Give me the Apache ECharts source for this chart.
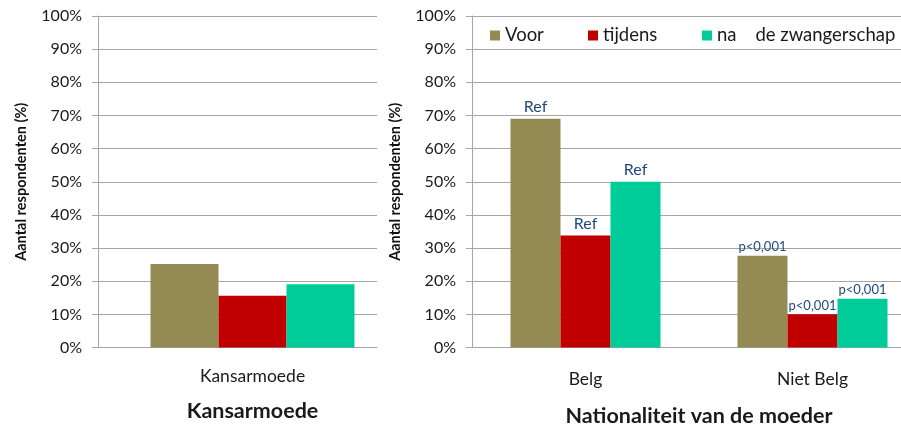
<!DOCTYPE html>
<html><head><meta charset="utf-8">
<script src="https://cdn.jsdelivr.net/npm/echarts@6/dist/echarts.min.js"></script>
<style>html,body{margin:0;padding:0;background:#fff}#c{width:901px;height:427px}</style>
</head><body><div id="c"></div>
<script>
const seriesNames = ['Voor', 'tijdens', 'na'];
const leftCategories = ['Kansarmoede'];
const leftVoor = [25.2];
const leftTijdens = [15.6];
const leftNa = [19.1];
const rightCategories = ['Belg', 'Niet Belg'];
const rightVoor = [69.0, 27.7];
const rightTijdens = [33.8, 10.0];
const rightNa = [50.0, 14.7];
const voorLabels = ['Ref', 'p<0,001'];
const tijdensLabels = ['Ref', 'p<0,001'];
const naLabels = ['Ref', 'p<0,001'];
const yTicks = [0, 10, 20, 30, 40, 50, 60, 70, 80, 90, 100];
const yAxisName = 'Aantal respondenten (%)';
const leftXName = 'Kansarmoede';
const rightXName = 'Nationaliteit van de moeder';
const naLegendText = 'na    de zwangerschap';

const colors = ['#948A54', '#C00000', '#00CC99'];
const FONT = 'Lato';
const gridColor = '#A6A6A6';
const txt = '#1a1a1a';

function yAxis(gridIndex, show) {
  return {
    type: 'value', gridIndex, min: yTicks[0], max: yTicks[yTicks.length - 1], interval: yTicks[1] - yTicks[0],
    show: show,
    name: yAxisName, nameLocation: 'middle', nameGap: 69, nameRotate: 90,
    nameTextStyle: { fontFamily: FONT, fontSize: 14.5, fontWeight: 'bold', color: '#111' },
    axisLine: { show: true, lineStyle: { color: gridColor, width: 1 } },
    axisTick: { show: true, length: 6, lineStyle: { color: gridColor } },
    axisLabel: { formatter: '{value}%', fontFamily: FONT, fontSize: 16, color: txt, margin: 16 },
    splitLine: { show: true, lineStyle: { color: gridColor, width: 1 } }
  };
}

function labelData(values, labels) {
  return values.map((v, i) => ({
    value: v,
    label: {
      show: true, position: 'top', distance: labels[i] === 'Ref' ? 4 : 2,
      formatter: labels[i], fontFamily: FONT, color: '#1F497D',
      fontSize: labels[i] === 'Ref' ? 16 : 13
    }
  }));
}

const leftVals = [leftVoor, leftTijdens, leftNa];
const rightVals = [rightVoor, rightTijdens, rightNa];
const rightLabels = [voorLabels, tijdensLabels, naLabels];

const series = [];
seriesNames.forEach((n, k) => {
  series.push({ type: 'bar', name: n, xAxisIndex: 1, yAxisIndex: 1, data: leftVals[k],
    barWidth: 68, barGap: 0, itemStyle: { color: colors[k] }, silent: true });
});
seriesNames.forEach((n, k) => {
  series.push({ type: 'bar', name: n, xAxisIndex: 2, yAxisIndex: 2, data: labelData(rightVals[k], rightLabels[k]),
    barWidth: 50, barGap: 0, itemStyle: { color: colors[k] }, silent: true });
});

const legendLefts = [485, 583, 697];
const legends = seriesNames.map((n, k) => ({
  data: [n], left: legendLefts[k], top: 21, icon: 'rect', itemWidth: 10, itemHeight: 10,
  selectedMode: false,
  formatter: (name) => name === 'na' ? naLegendText : name,
  textStyle: { fontFamily: FONT, fontSize: 18.5, color: txt }
}));

const option = {
  animation: false,
  backgroundColor: '#fff',
  color: colors,
  legend: legends,
  grid: [
    { left: 98, top: 16, width: 279, height: 331.5, outerBoundsMode: 'none', containLabel: false },
    { left: 98, top: 16, width: 309, height: 331.5, outerBoundsMode: 'none', containLabel: false },
    { left: 472, top: 16, width: 454, height: 331.5, outerBoundsMode: 'none', containLabel: false }
  ],
  xAxis: [
    { type: 'category', gridIndex: 0, data: leftCategories, boundaryGap: true,
      axisLine: { lineStyle: { color: gridColor } }, axisTick: { length: 7, lineStyle: { color: gridColor } },
      axisLabel: { show: false } },
    { type: 'category', gridIndex: 1, data: leftCategories,
      axisLine: { show: false }, axisTick: { show: false },
      axisLabel: { fontFamily: FONT, fontSize: 17.5, color: txt, margin: 20 },
      name: leftXName, nameLocation: 'middle', nameGap: 53,
      nameTextStyle: { fontFamily: FONT, fontSize: 21.5, fontWeight: 'bold', color: txt } },
    { type: 'category', gridIndex: 2, data: rightCategories,
      axisLine: { lineStyle: { color: gridColor } }, axisTick: { length: 7, lineStyle: { color: gridColor } },
      axisLabel: { fontFamily: FONT, fontSize: 17.5, color: txt, margin: 23 },
      name: rightXName, nameLocation: 'middle', nameGap: 58,
      nameTextStyle: { fontFamily: FONT, fontSize: 21.5, fontWeight: 'bold', color: txt } }
  ],
  yAxis: [yAxis(0, true), yAxis(1, false), yAxis(2, true)],
  series
};

const chart = echarts.init(document.getElementById('c'), null, { renderer: 'canvas' });
chart.setOption(option);
</script></body></html>
